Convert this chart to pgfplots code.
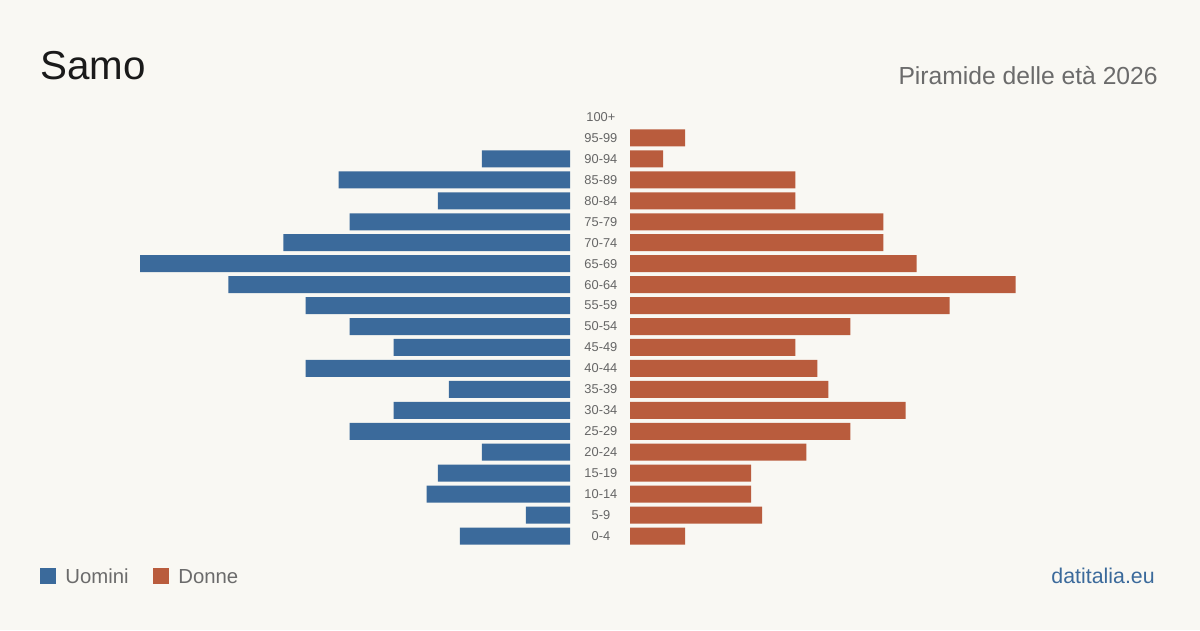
\documentclass[border=0pt]{standalone}
\usepackage{pgfplots}
\pgfplotsset{compat=1.18}
\usepackage{fontspec}
\setmainfont{Liberation Sans}

\definecolor{bgcol}{HTML}{F9F8F3}
\definecolor{men}{HTML}{3B6A9B}
\definecolor{women}{HTML}{B95C3D}
\definecolor{titlecol}{HTML}{1A1A1A}
\definecolor{subcol}{HTML}{6B6B6B}
\definecolor{tickcol}{HTML}{666666}

% age classes from 0-4 (row 0) up to 100+ (row 20); empty classes are left out
% men are plotted with negative counts on the left half
\pgfplotstableread{
row value
0 -10
1 -4
2 -13
3 -12
4 -8
5 -20
6 -16
7 -11
8 -24
9 -16
10 -20
11 -24
12 -31
13 -39
14 -26
15 -20
16 -12
17 -21
18 -8
}\menTable

\pgfplotstableread{
row value
0 5
1 12
2 11
3 11
4 16
5 20
6 25
7 18
8 17
9 15
10 20
11 29
12 35
13 26
14 23
15 23
16 15
17 15
18 3
19 5
}\womenTable

\pgfplotsset{
  pyramid/.style={
    scale only axis,
    width=264.48pt,
    height=263.97pt,
    ymin=-0.5, ymax=20.5,
    xbar,
    bar width=10.2pt,
    bar shift=0pt,
    axis line style={draw=none},
    tick style={draw=none},
    xtick=\empty,
    /pgf/number format/assume math mode=true,
  }
}

\begin{document}
\begin{tikzpicture}
% canvas 720pt x 378pt
\fill[bgcol] (0,0) rectangle (720pt,378pt);

% men (left half)
\begin{axis}[pyramid,
  anchor=south east, at={(342pt,50.1pt)},
  xmin=-40, xmax=0,
  ytick=\empty]
  \addplot[fill=men, draw=none] table[x=value, y=row] {\menTable};
\end{axis}

% women (right half) with the age classes in the middle gap
\begin{axis}[pyramid,
  anchor=south west, at={(378pt,50.1pt)},
  xmin=0, xmax=40,
  ytick={0,...,20},
  yticklabels={0-4,5-9,10-14,15-19,20-24,25-29,30-34,35-39,40-44,45-49,50-54,55-59,60-64,65-69,70-74,75-79,80-84,85-89,90-94,95-99,100+},
  yticklabel style={anchor=center, xshift=-13.2pt, font=\fontsize{7.7pt}{8pt}\selectfont, text=tickcol}]
  \addplot[fill=women, draw=none] table[x=value, y=row] {\womenTable};
\end{axis}

% titles
\node[anchor=base west, inner sep=0pt, text=titlecol,
  font=\fontsize{24.2pt}{27pt}\selectfont] at (24pt,330pt) {Samo};
\node[anchor=base east, inner sep=0pt, text=subcol,
  font=\fontsize{14.8pt}{17pt}\selectfont] at (694.8pt,327pt) {Piramide delle età 2026};

% legend
\fill[men] (24pt,27.6pt) rectangle (33.6pt,37.2pt);
\node[anchor=base west, inner sep=0pt, text=subcol,
  font=\fontsize{12.2pt}{14pt}\selectfont] at (39pt,28.2pt) {Uomini};
\fill[women] (92pt,27.6pt) rectangle (101.6pt,37.2pt);
\node[anchor=base west, inner sep=0pt, text=subcol,
  font=\fontsize{12.2pt}{14pt}\selectfont] at (106.8pt,28.2pt) {Donne};

% source
\node[anchor=base east, inner sep=0pt, text=men,
  font=\fontsize{12.8pt}{15pt}\selectfont] at (693pt,28.2pt) {datitalia.eu};
\end{tikzpicture}
\end{document}
